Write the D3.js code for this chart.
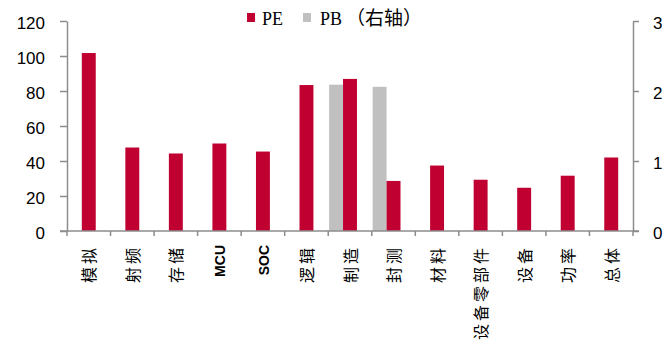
<!DOCTYPE html>
<html>
<head>
<meta charset="utf-8">
<script src="https://cdn.jsdelivr.net/npm/d3@7"></script>
<style>
  html, body { margin: 0; padding: 0; background: #fff; }
  svg { display: block; }
</style>
</head>
<body>
<svg id="chart" width="665" height="352"></svg>
<script>
// Sector valuation: PE on the left axis, PB on the right axis
const categories = ["模拟", "射频", "存储", "MCU", "SOC", "逻辑", "制造", "封测", "材料", "设备零部件", "设备", "功率", "总体"];
const peValues = [101.7, 47.7, 44.3, 50.0, 45.4, 83.4, 86.9, 28.6, 37.4, 29.3, 24.7, 31.6, 42.0];
const pbValues = [null, null, null, null, null, null, 2.09, 2.06, null, null, null, null, null];
const leftTicks = [0, 20, 40, 60, 80, 100, 120];
const rightTicks = [0, 1, 2, 3];
const seriesNames = ["PE", "PB", "（右轴）"];

const RED = "#C00030";
const GRAY = "#C0C0C0";
const AXIS = "#8C8C8C";

const svg = d3.select("#chart");
const plotLeft = 67, plotRight = 633, plotTop = 21, plotBottom = 231;

const x = d3.scaleBand().domain(categories).range([plotLeft, plotRight]).padding(0);
const yL = d3.scaleLinear().domain([0, 120]).range([plotBottom, plotTop]);
const yR = d3.scaleLinear().domain([0, 3]).range([plotBottom, plotTop]);
const barW = x.bandwidth() * 0.32;

// PB bars sit just left of the PE bar in each category
svg.append("g").selectAll("rect")
  .data(categories.map((c, i) => ({ c, v: pbValues[i] })).filter(d => d.v != null))
  .join("rect")
  .attr("x", d => x(d.c) + x.bandwidth() / 2 - barW * 1.5)
  .attr("width", barW)
  .attr("y", d => yR(d.v))
  .attr("height", d => plotBottom - yR(d.v))
  .attr("fill", GRAY);

svg.append("g").selectAll("rect")
  .data(categories.map((c, i) => ({ c, v: peValues[i] })))
  .join("rect")
  .attr("x", d => x(d.c) + x.bandwidth() / 2 - barW / 2)
  .attr("width", barW)
  .attr("y", d => yL(d.v))
  .attr("height", d => plotBottom - yL(d.v))
  .attr("fill", RED);

// Left axis
const gL = svg.append("g").attr("transform", `translate(${plotLeft},0)`)
  .call(d3.axisLeft(yL).tickValues(leftTicks).tickSize(7).tickPadding(15).tickSizeOuter(0));
// Right axis
const gR = svg.append("g").attr("transform", `translate(${plotRight},0)`)
  .call(d3.axisRight(yR).tickValues(rightTicks).tickFormat(d3.format("d")).tickSize(6).tickPadding(14).tickSizeOuter(0));
[gL, gR].forEach(g => {
  g.select(".domain").attr("stroke", AXIS).attr("stroke-width", 1.5);
  g.selectAll(".tick line").attr("stroke", AXIS).attr("stroke-width", 1.5);
  g.selectAll(".tick text")
    .attr("font-family", "Liberation Sans, Arial, sans-serif")
    .attr("font-size", 17)
    .attr("fill", "#000")
    .attr("dy", "0.45em");
});

// Category axis: boundary ticks between bands
const gX = svg.append("g");
gX.append("line")
  .attr("x1", plotLeft - 7).attr("x2", plotRight + 6)
  .attr("y1", plotBottom).attr("y2", plotBottom)
  .attr("stroke", AXIS).attr("stroke-width", 1.5);
const edges = categories.map(c => x(c)).concat([x.range()[1]]);
gX.selectAll("line.edge").data(edges).join("line")
  .attr("class", "edge")
  .attr("x1", d => d).attr("x2", d => d)
  .attr("y1", plotBottom).attr("y2", plotBottom + 5)
  .attr("stroke", AXIS).attr("stroke-width", 1.5);

// Rotated category labels, reading upward and aligned at the top
const isLatin = d => /^[A-Z]+$/.test(d);
gX.selectAll("text.cat").data(categories).join("text")
  .attr("class", "cat")
  .attr("transform", d => `translate(${x(d) + x.bandwidth() / 2 + 1},245) rotate(-90)`)
  .attr("text-anchor", "end")
  .attr("dy", "0.35em")
  .attr("font-family", d => isLatin(d) ? "Liberation Sans, Arial, sans-serif" : "Noto Sans CJK SC, sans-serif")
  .attr("font-weight", d => isLatin(d) ? "bold" : "normal")
  .attr("font-size", d => isLatin(d) ? 14 : 16)
  .attr("letter-spacing", d => isLatin(d) ? 0 : 3)
  .text(d => d);

// Legend
const legend = svg.append("g");
legend.append("rect").attr("x", 247).attr("y", 13).attr("width", 8).attr("height", 9).attr("fill", RED);
legend.append("text")
  .attr("x", 262).attr("y", 25)
  .attr("font-family", "Liberation Serif, Times New Roman, serif")
  .attr("font-size", 18).attr("fill", "#000")
  .text(seriesNames[0]);
legend.append("rect").attr("x", 303).attr("y", 13).attr("width", 8).attr("height", 9).attr("fill", GRAY);
const pbText = legend.append("text")
  .attr("x", 320).attr("y", 25)
  .attr("font-size", 18).attr("fill", "#000");
pbText.append("tspan")
  .attr("font-family", "Liberation Serif, Times New Roman, serif")
  .text(seriesNames[1]);
pbText.append("tspan")
  .attr("dx", 4)
  .attr("font-family", "Noto Sans CJK SC, sans-serif")
  .attr("font-size", 19)
  .text(seriesNames[2]);
</script>
</body>
</html>
